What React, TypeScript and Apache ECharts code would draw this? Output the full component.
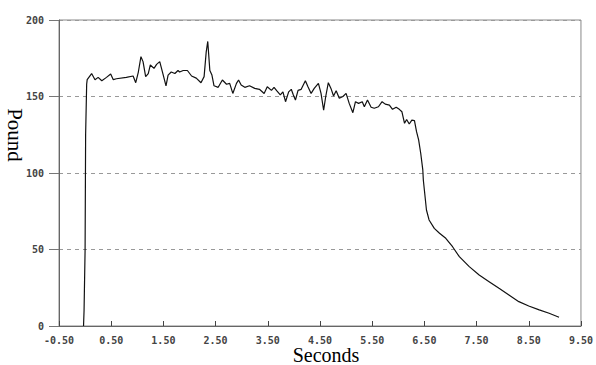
import React, { useEffect, useRef } from "react";
import * as echarts from "echarts";

// Time in seconds
const seconds: number[] = [
  -0.03, -0.02, 0.0, 0.01, 0.03, 0.04, 0.125, 0.19, 0.25, 0.32, 0.41, 0.49, 0.54, 0.6, 0.79, 0.92,
  0.97, 1.02, 1.07, 1.11, 1.16, 1.21, 1.25, 1.32, 1.37, 1.43, 1.49, 1.55, 1.59, 1.65, 1.72, 1.78,
  1.81, 1.88, 1.96, 2.04, 2.13, 2.22, 2.28, 2.32, 2.35, 2.39, 2.43, 2.47, 2.55, 2.63, 2.71, 2.77,
  2.83, 2.9, 2.94, 2.99, 3.06, 3.15, 3.25, 3.34, 3.43, 3.49, 3.57, 3.62, 3.67, 3.74, 3.79, 3.84,
  3.9, 3.95, 3.99, 4.03, 4.08, 4.14, 4.22, 4.27, 4.33, 4.39, 4.47, 4.52, 4.57, 4.61, 4.66, 4.71,
  4.76, 4.81, 4.87, 4.94, 5.0, 5.06, 5.13, 5.18, 5.24, 5.31, 5.35, 5.41, 5.48, 5.54, 5.62, 5.69,
  5.75, 5.83, 5.89, 5.96, 6.02, 6.07, 6.12, 6.16, 6.21, 6.26, 6.31, 6.35, 6.39, 6.43, 6.47, 6.48,
  6.5, 6.54, 6.59, 6.69, 6.79, 6.91, 7.04, 7.17, 7.36, 7.55, 7.74, 7.93, 8.12, 8.31, 8.5, 8.7,
  8.89, 9.08,
];

// Force in pounds
const pounds: number[] = [
  0, 10, 50, 125, 158, 161, 165, 161, 162.5, 160.3, 162.5, 164.7, 161, 161.6, 162.5, 163.4,
  159, 166, 176, 172.8, 163, 165, 170.6, 168.4, 171, 172.8, 165, 157, 164, 166, 165, 167,
  166, 167, 167, 163.4, 162, 159, 163, 179, 186, 167, 164, 157, 156, 160.8, 158, 158.6,
  152, 158.6, 160.8, 157.5, 156, 157, 155.3, 154.7, 152, 156.4, 154, 156, 153.8, 151, 153, 146.6,
  153, 154.7, 151, 147.7, 154, 154.7, 160.3, 156.4, 152, 155.3, 158.6, 152, 141, 150, 159, 155.3,
  150.3, 153.8, 148.8, 150, 152, 145.5, 139.4, 146.6, 145.5, 146.6, 143.3, 147.7, 143, 142.3, 143.3, 146.6,
  145, 144.4, 141.6, 143, 141.6, 140, 132.5, 135, 132, 134.6, 134.2, 127, 121.6, 112.9, 102, 95.4,
  88.9, 75.8, 69.3, 63.8, 60.6, 57.3, 51.8, 45.3, 38.8, 33.3, 29, 24.6, 20.3, 15.9, 13.1, 10.5,
  8.3, 5.7,
];

// x axis tick labels run from -0.50 to 9.50 in steps of 1
const xOffset = 0.5;
const yTicks = [0, 50, 100, 150, 200];

export default function App() {
  const ref = useRef<HTMLDivElement>(null);
  useEffect(() => {
    if (!ref.current) return;
    const chart = echarts.init(ref.current, null, { renderer: "svg" });
    const data = seconds.map((s, i) => [s + xOffset, pounds[i]]);
    const tickFont = {
      fontFamily: "DejaVu Sans Mono",
      fontWeight: "bold" as const,
      fontSize: 10,
      lineHeight: 10,
      color: "#444",
    };
    chart.setOption({
      animation: false,
      backgroundColor: "#fff",
      grid: {
        left: 59,
        right: 14,
        top: 20,
        bottom: 39,
        show: true,
        borderColor: "#888",
        borderWidth: 1,
        backgroundColor: "transparent",
      },
      xAxis: {
        type: "value",
        min: 0,
        max: 10,
        interval: 1,
        axisLine: { show: true, lineStyle: { color: "#666", width: 1 } },
        axisTick: { show: true, inside: true, length: 5, lineStyle: { color: "#444" } },
        axisLabel: {
          ...tickFont,
          margin: 9,
          formatter: (v: number) => (v - xOffset).toFixed(2),
        },
        splitLine: { show: false },
      },
      yAxis: {
        type: "value",
        min: yTicks[0],
        max: yTicks[yTicks.length - 1],
        interval: 50,
        axisLine: { show: true, lineStyle: { color: "#666", width: 1 } },
        axisTick: { show: true, inside: false, length: 10, lineStyle: { color: "#777" } },
        axisLabel: { ...tickFont, margin: 15 },
        splitLine: {
          show: true,
          lineStyle: { color: "#999", type: [4, 4], width: 1 },
        },
      },
      graphic: [
        {
          type: "text",
          x: 15,
          y: 135,
          rotation: -Math.PI / 2,
          style: {
            text: "Pound",
            fontFamily: "Liberation Serif",
            fontSize: 21,
            fill: "#000",
            align: "center",
            verticalAlign: "middle",
          },
        },
        {
          type: "text",
          x: 326,
          y: 355,
          style: {
            text: "Seconds",
            fontFamily: "Liberation Serif",
            fontSize: 20,
            lineHeight: 17,
            fill: "#000",
            align: "center",
            verticalAlign: "middle",
          },
        },
      ],
      series: [
        {
          type: "line",
          data,
          showSymbol: false,
          symbol: "none",
          lineStyle: { color: "#111", width: 1.2 },
        },
      ],
    });
    return () => chart.dispose();
  }, []);
  return (
    <div
      ref={ref}
      style={{ position: "fixed", left: 0, top: 0, width: 596, height: 365, background: "#fff" }}
    />
  );
}
